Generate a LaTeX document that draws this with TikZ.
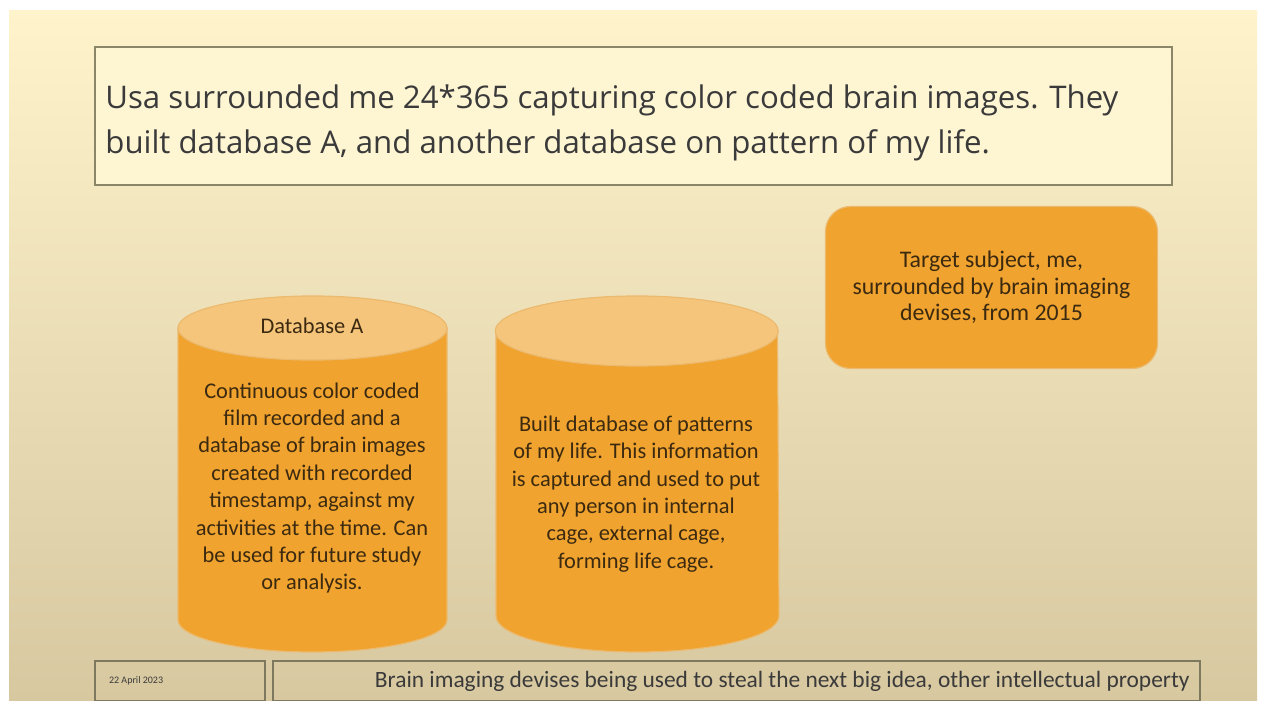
\documentclass[tikz,border=0pt]{standalone}
\usepackage{fontspec}
\setmainfont{Carlito}
\newfontfamily\headfont{Open Sans}
\usetikzlibrary{positioning}
\definecolor{slidetop}{RGB}{254,243,203}
\definecolor{slidebot}{RGB}{215,200,160}
\definecolor{frameline}{RGB}{140,134,104}
\definecolor{dborange}{RGB}{240,163,47}
\definecolor{dblight}{RGB}{246,197,124}
\definecolor{dbedge}{RGB}{236,186,110}
\definecolor{inktext}{RGB}{60,42,16}
\definecolor{headtext}{RGB}{58,58,58}

\begin{document}
\begin{tikzpicture}[
    x=0.5pt, y=-0.5pt,
    headbox/.style={draw=frameline,line width=1pt,fill=slidetop!85!white},
    footbox/.style={draw=frameline!90!black,line width=0.8pt},
    dbbody/.style={fill=dborange,draw=dbedge,line width=0.6pt},
    dbtop/.style={fill=dblight,draw=dbedge,line width=0.6pt},
    dbtext/.style={align=center,text=inktext,font=\fontsize{11.2}{13.7}\selectfont},
    target/.style={rectangle,rounded corners=12.5pt,fill=dborange,draw=dbedge,line width=0.6pt,
      minimum width=166pt,minimum height=81pt,align=center,text=inktext,
      font=\fontsize{11.9}{13.3}\selectfont}
  ]
    % slide background
    \fill[white] (0,0) rectangle (1264,701);
    \fill[top color=slidetop,bottom color=slidebot] (9,11) rectangle (1257,701);
    \useasboundingbox (0,0) rectangle (1264,701);

    % heading
    \draw[headbox] (95,47) rectangle (1172,185);
    \node[anchor=west,align=left,text=headtext,inner sep=0pt,
      font=\headfont\fontsize{15.6}{22.5}\selectfont] (head) at (105,123)
      {Usa surrounded me 24*365 capturing color coded brain images. They\\
       built database A, and another database on pattern of my life.};

    % database A
    \path[dbbody] (178,328) -- (178,620)
      arc[start angle=180,end angle=360,x radius=67.25pt,y radius=16pt] -- (447,328) -- cycle;
    \path[dbtop] (312.5,328) ellipse[x radius=67.25pt,y radius=16pt];
    \node[dbtext] (dbAname) at (312,326) {Database A};
    \node[dbtext] (dbAtext) at (312,488) {Continuous color coded\\film recorded and a\\
      database of brain images\\created with recorded\\timestamp, against my\\
      activities at the time. Can\\be used for future study\\or analysis.};

    % database of patterns
    \path[dbbody] (496,331) -- (496,616)
      arc[start angle=180,end angle=360,x radius=70.75pt,y radius=18pt] -- (777.5,331) -- cycle;
    \path[dbtop] (636.75,331) ellipse[x radius=70.75pt,y radius=17.5pt];
    \node[dbtext] (dbBtext) at (636,494) {Built database of patterns\\of my life. This information\\
      is captured and used to put\\any person in internal\\cage, external cage,\\forming life cage.};

    % target subject
    \node[target] (subject) at (991.5,287.5) {Target subject, me,\\surrounded by brain imaging\\devises, from 2015};

    % footer
    \draw[footbox] (95,661) rectangle (265,701);
    \node[anchor=west,text=headtext,font=\fontsize{5}{6}\selectfont] (date) at (102,681) {22 April 2023};
    \draw[footbox] (273,661) rectangle (1200,701);
    \node[anchor=east,text=headtext,inner sep=0pt,font=\fontsize{11.7}{13}\selectfont] (footer) at (1190,681)
      {Brain imaging devises being used to steal the next big idea, other intellectual property};
  \end{tikzpicture}
\end{document}
